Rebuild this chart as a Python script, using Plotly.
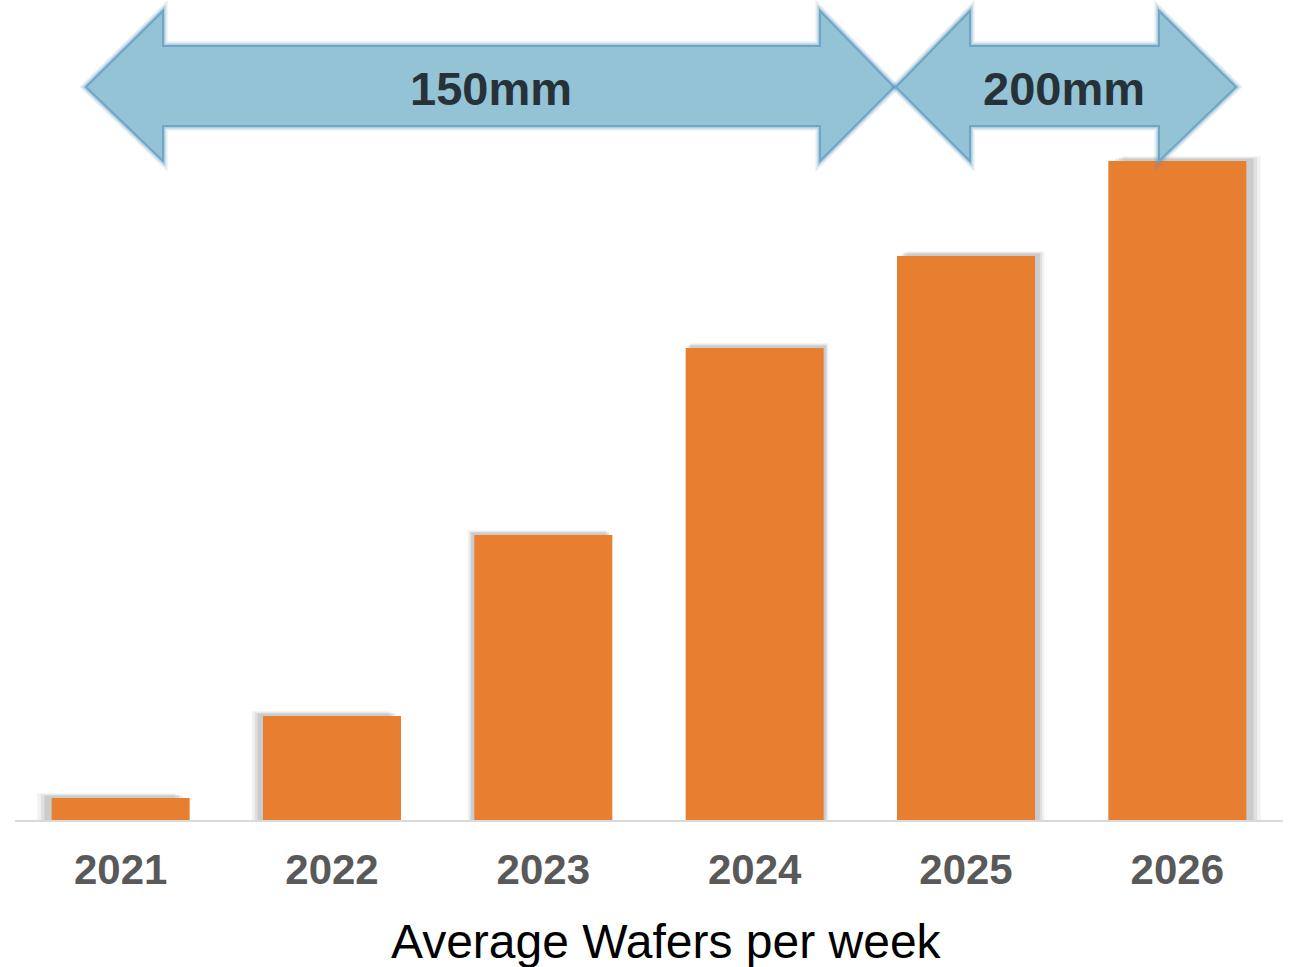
import plotly.graph_objects as go

# ---- data ----
years = ["2021", "2022", "2023", "2024", "2025", "2026"]
wafers = [22, 104, 285, 472, 564, 659]          # relative average wafers per week
phase_labels = ["150mm", "200mm"]

# ---- layout constants (pixels) ----
W, H = 1289, 967
ML, MR, MT, MB = 15, 6, 0, 147
PW = W - ML - MR
PH = H - MT - MB
Y_MAX = 820

BAR_COLOR = "#E87E2F"
ARROW_FILL = "#93C3D5"
ARROW_EDGE = "#6FA6C4"

def px(x):
    return (x - ML) / PW

def py(y):
    return (H - MB - y) / PH

fig = go.Figure()

# soft shadows (perspective-like: left of centre -> shadow left, right -> right)
shadow_px = [-9, -7, -4, 3, 6, 9]
unit = 6 / PW  # data units per pixel on category axis
bw = 0.653
for k, alpha in [(1.6, 0.05), (1.2, 0.07), (0.8, 0.09)]:
    fig.add_trace(go.Bar(
        x=years, y=[v + 3 * k for v in wafers],
        width=[bw] * 6,
        offset=[-bw / 2 + s * unit * k for s in shadow_px],
        marker=dict(color=f"rgba(0,0,0,{alpha})", line=dict(width=0)),
        hoverinfo="skip", showlegend=False,
    ))

fig.add_trace(go.Bar(
    x=years, y=wafers, width=bw, offset=-bw / 2,
    marker=dict(color=BAR_COLOR, line=dict(width=0)),
    showlegend=False,
))

def double_arrow(x0, hb0, hb1, x1, ytop, ysh0, ymid, ysh1, ybot):
    pts = [(x0, ymid), (hb0, ytop), (hb0, ysh0), (hb1, ysh0), (hb1, ytop), (x1, ymid),
           (hb1, ybot), (hb1, ysh1), (hb0, ysh1), (hb0, ybot)]
    d = "M " + " L ".join(f"{px(a):.5f},{py(b):.5f}" for a, b in pts) + " Z"
    return d

arrows = [
    double_arrow(86, 163, 820, 894, 11, 46, 87, 126, 161),
    double_arrow(896, 970, 1159, 1236, 11, 46, 87, 126, 161),
]
for d in arrows:
    # glow layers
    fig.add_shape(type="path", path=d, xref="paper", yref="paper",
                  line=dict(color="rgba(90,150,190,0.18)", width=9), fillcolor="rgba(0,0,0,0)")
    fig.add_shape(type="path", path=d, xref="paper", yref="paper",
                  line=dict(color="rgba(90,150,190,0.35)", width=5), fillcolor="rgba(0,0,0,0)")
    fig.add_shape(type="path", path=d, xref="paper", yref="paper",
                  line=dict(color=ARROW_EDGE, width=2), fillcolor=ARROW_FILL)

for label, cx in zip(phase_labels, [491, 1064]):
    fig.add_annotation(x=px(cx), y=py(89), xref="paper", yref="paper",
                       text=f"<b>{label}</b>", showarrow=False,
                       font=dict(family="Liberation Sans, Arial, sans-serif", size=47, color="#263238"),
                       xanchor="center", yanchor="middle")

fig.add_annotation(x=px(666), y=py(942), xref="paper", yref="paper",
                   text="Average Wafers per week", showarrow=False,
                   font=dict(family="Liberation Sans, Arial, sans-serif", size=48, color="#000000"),
                   xanchor="center", yanchor="middle")

fig.update_layout(
    width=W, height=H,
    margin=dict(l=ML, r=MR, t=MT, b=MB),
    paper_bgcolor="white", plot_bgcolor="white",
    barmode="overlay", bargap=0.35,
    xaxis=dict(
        type="category", range=[-0.5, 5.5],
        showline=True, linecolor="#D9D9D9", linewidth=2,
        showgrid=False, zeroline=False,
        ticks="outside", ticklen=0, ticklabelstandoff=12,
        tickfont=dict(family="Liberation Sans, Arial, sans-serif", size=42, color="#595959", weight="bold"),
    ),
    yaxis=dict(range=[0, Y_MAX], visible=False, showgrid=False, zeroline=False),
)

fig.write_html("out.html")
